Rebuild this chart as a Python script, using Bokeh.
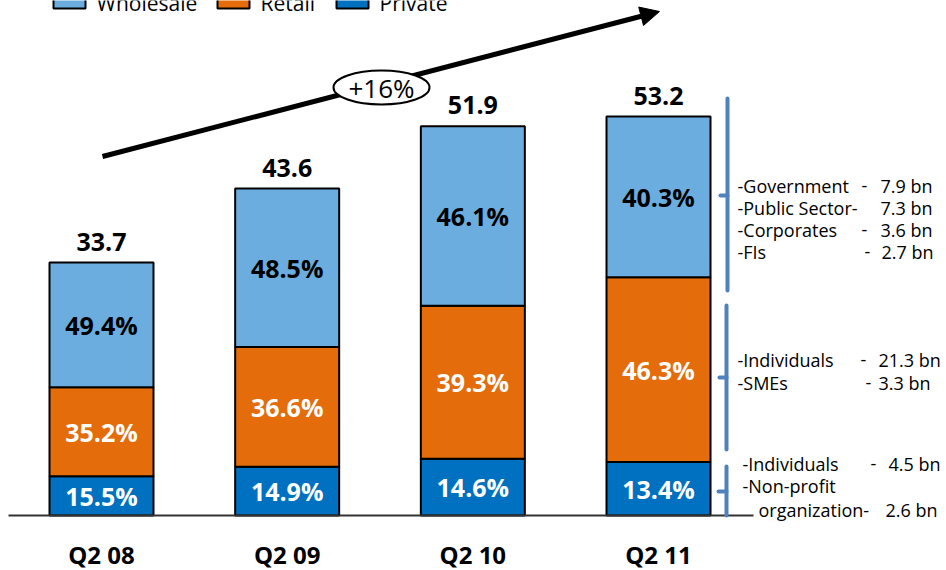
from bokeh.plotting import figure
from bokeh.models import Range1d, Arrow, NormalHead, ColumnDataSource
from bokeh.core.properties import value
from bokeh.embed import file_html
from bokeh.resources import INLINE

# ---------------- data ----------------
quarters = ["Q2 08", "Q2 09", "Q2 10", "Q2 11"]
totals = [33.7, 43.6, 51.9, 53.2]
wholesale_pct = [49.4, 48.5, 46.1, 40.3]
retail_pct = [35.2, 36.6, 39.3, 46.3]
private_pct = [15.5, 14.9, 14.6, 13.4]
series = ["Wholesale", "Retail", "Private"]
growth_label = "+16%"

wholesale_items = ["-Government", "-Public Sector-", "-Corporates", "-FIs"]
wholesale_bn = [7.9, 7.3, 3.6, 2.7]
retail_items = ["-Individuals", "-SMEs"]
retail_bn = [21.3, 3.3]
private_items = ["-Individuals", "-Non-profit", "organization-"]
private_bn = [4.5, None, 2.6]

# ---------------- styles / layout ----------------
C_WHOLESALE = "#6CADDF"
C_RETAIL = "#E46C0A"
C_PRIVATE = "#0070C0"
C_BRACKET = "#4F81BD"
FONT = "Open Sans"

W, H = 946, 570
BASE = 515.0      # baseline pixel row
PPU = 7.5         # pixels per bn
X0 = 101.0        # pixel centre of first bar
STEP = 185.67     # pixels between bar centres


def py(px):
    return (BASE - px) / PPU


def pxx(px):
    return (px - X0) / STEP


p = figure(width=W, height=H, output_backend="svg", toolbar_location=None,
           x_range=Range1d(pxx(0), pxx(W)), y_range=Range1d(py(H), py(0)),
           x_axis_location=None, y_axis_location=None, min_border=0)
p.grid.visible = False
p.outline_line_color = None
p.background_fill_color = "white"

xs = list(range(len(quarters)))
wh = [t * v / 100 for t, v in zip(totals, wholesale_pct)]
rt = [t * v / 100 for t, v in zip(totals, retail_pct)]
pv = [t * v / 100 for t, v in zip(totals, private_pct)]

src = ColumnDataSource(dict(x=xs, Private=pv, Retail=rt, Wholesale=wh))

# growth arrow (beneath glyphs)
arrow = Arrow(end=NormalHead(size=19, fill_color="black", line_color="black", line_width=1),
              x_start=pxx(102), y_start=py(156), x_end=pxx(659), y_end=py(11),
              line_width=5, line_color="black", level="underlay")
p.add_layout(arrow)

p.vbar_stack(["Private", "Retail", "Wholesale"], x="x", width=104 / STEP,
             fill_color=[C_PRIVATE, C_RETAIL, C_WHOLESALE], line_color="black",
             line_width=2, source=src)

# baseline
p.segment(x0=[pxx(8)], y0=[0], x1=[pxx(753)], y1=[0], line_color="#333333", line_width=2)

# percentage labels
lab_x, lab_y, lab_t, lab_c = [], [], [], []
for i in xs:
    segs = [(pv[i], private_pct[i], "white"), (rt[i], retail_pct[i], "white"),
            (wh[i], wholesale_pct[i], "black")]
    bottom = 0.0
    for v, pct, col in segs:
        lab_x.append(i)
        lab_y.append(bottom + v / 2)
        lab_t.append(f"{pct:.1f}%")
        lab_c.append(col)
        bottom += v
p.text(x=lab_x, y=lab_y, text=lab_t, text_color=lab_c, text_align="center",
       text_baseline="middle", text_font=value(FONT), text_font_style="bold",
       text_font_size="25px")

# totals
p.text(x=xs, y=[t + 21 / PPU for t in totals], text=[f"{t:.1f}" for t in totals],
       text_color="black", text_align="center", text_baseline="middle",
       text_font=value(FONT), text_font_style="bold", text_font_size="25px")

# category labels
p.text(x=xs, y=[py(554)] * len(xs), text=quarters, text_color="black",
       text_align="center", text_baseline="middle", text_font=value(FONT),
       text_font_style="bold", text_font_size="24px")

# growth ellipse
p.ellipse(x=[pxx(381)], y=[py(87)], width=96 / STEP, height=34 / PPU,
          fill_color="white", line_color="black", line_width=2)
p.text(x=[pxx(381)], y=[py(87)], text=[growth_label], text_align="center",
       text_baseline="middle", text_font=value(FONT), text_font_size="26px",
       text_color="black")

# legend (clipped at the top as in the original)
leg_box_left = [53, 217, 336]
leg_text_left = [96, 260, 379]
p.quad(left=[pxx(v) for v in leg_box_left], right=[pxx(v + 32) for v in leg_box_left],
       top=[py(-22)] * 3, bottom=[py(8)] * 3,
       fill_color=[C_WHOLESALE, C_RETAIL, C_PRIVATE], line_color="black", line_width=2)
p.text(x=[pxx(v) for v in leg_text_left], y=[py(2)] * 3, text=series,
       text_align="left", text_baseline="middle", text_font=value(FONT),
       text_font_size="21px", text_color="black")

# brackets
bx0 = [pxx(727), pxx(720), pxx(726), pxx(719), pxx(726), pxx(718)]
bx1 = [pxx(727), pxx(727), pxx(726), pxx(726), pxx(726), pxx(726)]
by0 = [py(98), py(195), py(305), py(377), py(466), py(491)]
by1 = [py(290), py(195), py(449), py(377), py(515), py(491)]
p.segment(x0=bx0, y0=by0, x1=bx1, y1=by1, line_color=C_BRACKET, line_width=4,
          line_cap="round")

# breakdown texts
FS = "18px"
name_x = [737] * 4 + [737] * 2 + [742, 742, 758]
name_y = [185, 207, 229, 251, 359, 382, 463, 485, 509]
names = wholesale_items + retail_items + private_items
p.text(x=[pxx(v) for v in name_x], y=[py(v) for v in name_y], text=names,
       text_align="left", text_baseline="middle", text_font=value(FONT),
       text_font_size=FS, text_color="black")

dash_x = [864, None, 864, 867, 863, 868, 873]
dash_y = [185, 207, 229, 251, 359, 382, 463]
dx = [pxx(a) for a, b in zip(dash_x, dash_y) if a is not None]
dy = [py(b) for a, b in zip(dash_x, dash_y) if a is not None]
p.text(x=dx, y=dy, text=["-"] * len(dx), text_align="center", text_baseline="middle",
       text_font=value(FONT), text_font_size=FS, text_color="black")

vals = wholesale_bn + retail_bn + private_bn
val_x = [880, 880, 880, 881, 878, 878, 888, None, 885]
vx, vy, vt = [], [], []
for v, x, y in zip(vals, val_x, name_y):
    if v is None:
        continue
    vx.append(pxx(x))
    vy.append(py(y))
    vt.append(f"{v} bn")
p.text(x=vx, y=vy, text=vt, text_align="left", text_baseline="middle",
       text_font=value(FONT), text_font_size=FS, text_color="black")

open("out.html", "w").write(file_html(p, INLINE))
